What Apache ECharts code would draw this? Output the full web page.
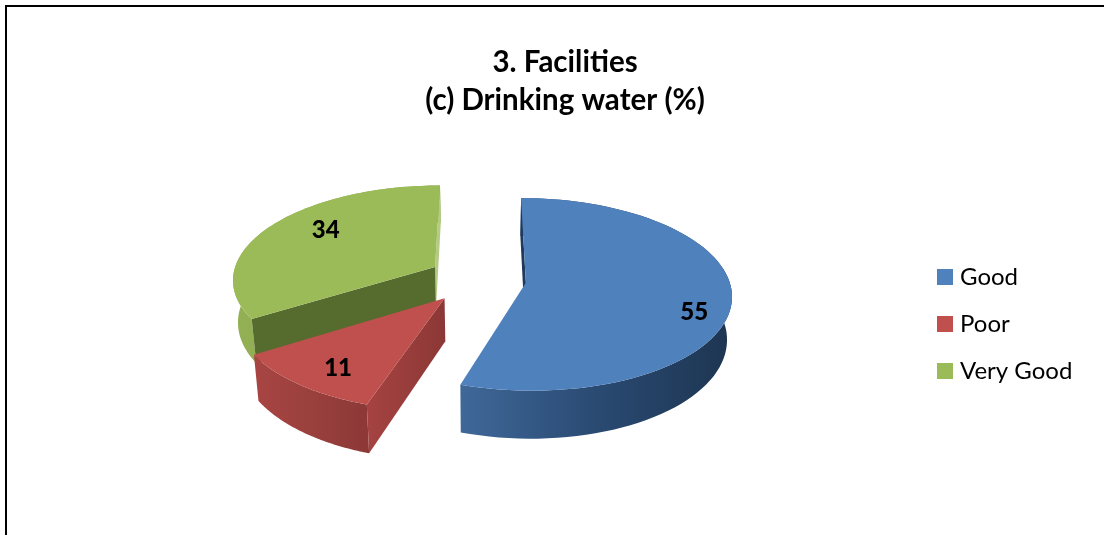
<!DOCTYPE html>
<html><head><meta charset="utf-8">
<style>html,body{margin:0;padding:0;background:#fff}#c{width:1104px;height:535px}</style>
<script src="https://cdn.jsdelivr.net/npm/echarts@6/dist/echarts.min.js"></script>
</head><body><div id="c"></div>
<script>
const categories = ['Good', 'Poor', 'Very Good'];
const values = [55, 11, 34];
const topColors = ['#4f81bd', '#c0504d', '#9bbb59'];
const titleLines = ['3. Facilities', '(c) Drinking water (%)'];

// projection of the tilted pie (layout only)
const view = {cx: 482, cy: 279, rx: 203, ry: 94, k: 0.12, h: 42, taper: 0.02};
const explode = [[0.215, 0.04], [-0.18, 0.2], [-0.235, -0.13]];
const arcGrad = [['#3f6899', '#2a4a72', '#1d3551'], ['#a84543', '#9a403d', '#8c3937'], ['#93b054', '#8dab4f', '#86a34a']];
const startFace = ['#1f3a5c', ['#a54341', '#8c3836'], '#566b2e'];
const endFace = [null, null, '#b4cb85'];
const labelAt = [[0.8, 4, 17], [0.7, -8, 11], [0.62, -6, -10]];

function project(X, Z) {
  const s = 1 / (1 - view.k * Z);
  return [view.cx + view.rx * X * s, view.cy + view.ry * Z * s, s];
}
function lower(p) {
  return [p[0] + (view.cx - p[0]) * view.taper, p[1] + view.h * p[2]];
}
const total = values.reduce((a, b) => a + b, 0);
function sliceOf(i) {
  let before = 0;
  for (let j = 0; j < i; j++) before += values[j];
  return [before / total * 2 * Math.PI, (before + values[i]) / total * 2 * Math.PI];
}
function rim(i, th, r) {
  return project(explode[i][0] + r * Math.sin(th), explode[i][1] - r * Math.cos(th));
}
function poly(points, fill) {
  return {type: 'polygon', shape: {points}, style: {fill}, silent: true};
}
function grad(x0, y0, x1, y1, cols) {
  return new echarts.graphic.LinearGradient(x0, y0, x1, y1,
    cols.map((c, n) => ({offset: n / (cols.length - 1), color: c})), true);
}
function render(i) {
  return function () {
    const [a, b] = sliceOf(i);
    const steps = 80;
    const arc = [];
    for (let n = 0; n <= steps; n++) arc.push(rim(i, a + (b - a) * n / steps, 1));
    const top = arc.map(p => [p[0], p[1]]);
    const low = arc.map(lower);
    const apex = rim(i, a, 0);
    const ax = apex[0], ay = apex[1];
    const xs = top.map(p => p[0]);
    const minX = Math.min(...xs), maxX = Math.max(...xs);
    const children = [];
    children.push(poly(top.concat(low.slice().reverse()), grad(minX, 0, maxX, 0, arcGrad[i])));
    const face = (pt, col) => {
      const fill = Array.isArray(col) ? grad(pt[0], 0, ax, 0, col) : col;
      children.push(poly([[ax, ay], [pt[0], pt[1]], lower(pt), lower(apex)], fill));
    };
    if (endFace[i]) face(arc[steps], endFace[i]);
    if (startFace[i]) face(arc[0], startFace[i]);
    children.push(poly([[ax, ay]].concat(top), topColors[i]));
    const mid = (a + b) / 2;
    const lp = rim(i, mid, labelAt[i][0]);
    children.push({
      type: 'text', silent: true, z2: 10,
      style: {x: lp[0] + labelAt[i][1], y: lp[1] + labelAt[i][2], text: String(values[i]),
        fill: '#000', font: '900 24px Lato', align: 'center', verticalAlign: 'middle'}
    });
    return {type: 'group', children};
  };
}
const order = [2, 1, 0];
const series = order.map(i => ({
  type: 'custom', name: categories[i], coordinateSystem: 'none',
  renderItem: render(i), data: [values[i]],
  itemStyle: {color: topColors[i]}, z: 2 + order.indexOf(i), animation: false
}));
const chart = echarts.init(document.getElementById('c'), null, {renderer: 'canvas'});
chart.setOption({
  animation: false,
  backgroundColor: '#fff',
  title: {
    text: titleLines.join('\n'), left: 560, top: 38, textAlign: 'center',
    textStyle: {fontFamily: 'Lato', fontWeight: 'bold', fontSize: 29.5, lineHeight: 38, color: '#000'}
  },
  legend: {
    data: categories, orient: 'vertical', left: 932, top: 258, icon: 'rect',
    itemWidth: 16, itemHeight: 16, itemGap: 19,
    textStyle: {fontFamily: 'Lato', fontSize: 24, color: '#000', padding: [0, 0, 0, 2], height: 28, lineHeight: 28},
    selectedMode: false
  },
  graphic: [
    {type: 'line', shape: {x1: 5, y1: 6, x2: 1104, y2: 6}, style: {stroke: '#000', lineWidth: 2}},
    {type: 'line', shape: {x1: 6, y1: 5, x2: 6, y2: 535}, style: {stroke: '#000', lineWidth: 2}}
  ],
  series
});
</script></body></html>
